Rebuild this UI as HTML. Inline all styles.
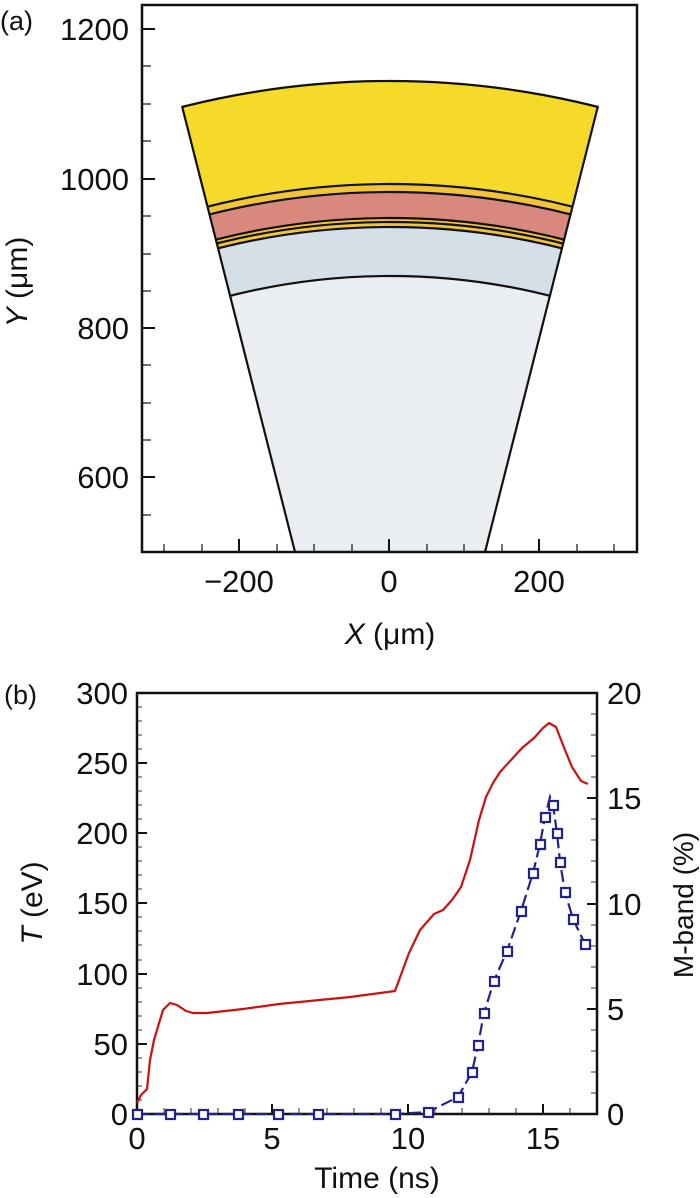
<!DOCTYPE html>
<html><head><meta charset="utf-8"><style>
html,body{margin:0;padding:0;background:#fff;overflow:hidden;width:700px;height:1198px;}
svg{display:block;font-family:"Liberation Sans",Arial,sans-serif;}
</style></head><body>
<svg width="700" height="1198" viewBox="0 0 700 1198" xmlns="http://www.w3.org/2000/svg">
<defs>
<clipPath id="wedge"><polygon points="390,927 169,55 611,55"/></clipPath>
<clipPath id="boxa"><rect x="142" y="5" width="495" height="547"/></clipPath>
</defs>
<g clip-path="url(#boxa)">
<g clip-path="url(#wedge)" stroke="#111" stroke-width="2.2">
<circle cx="390" cy="927" r="846" fill="#f5da2a"/>
<circle cx="390" cy="927" r="743" fill="#f2c43a"/>
<circle cx="390" cy="927" r="735" fill="#d9887e"/>
<circle cx="390" cy="927" r="709" fill="#f2c43a"/>
<circle cx="390" cy="927" r="705" fill="#f2c43a"/>
<circle cx="390" cy="927" r="700" fill="#d5dfe8"/>
<circle cx="390" cy="927" r="651" fill="#eaeef2"/>
</g>
<line x1="182" y1="106" x2="295" y2="552" stroke="#111" stroke-width="2.2"/>
<line x1="598" y1="106" x2="485" y2="552" stroke="#111" stroke-width="2.2"/>
</g>
<rect x="142" y="5" width="495" height="547" fill="none" stroke="#111" stroke-width="2.5"/>
<g stroke="#111" stroke-width="2">
<line x1="142" y1="29" x2="155" y2="29"/><line x1="142" y1="179" x2="155" y2="179"/>
<line x1="142" y1="328" x2="155" y2="328"/><line x1="142" y1="477" x2="155" y2="477"/>
<line x1="239" y1="552" x2="239" y2="539"/><line x1="389" y1="552" x2="389" y2="539"/><line x1="539" y1="552" x2="539" y2="539"/>
</g>
<g stroke="#111" stroke-width="1.2">
<line x1="142" y1="66" x2="151" y2="66"/><line x1="142" y1="104" x2="151" y2="104"/><line x1="142" y1="141" x2="151" y2="141"/>
<line x1="142" y1="216" x2="151" y2="216"/><line x1="142" y1="254" x2="151" y2="254"/><line x1="142" y1="291" x2="151" y2="291"/>
<line x1="142" y1="365" x2="151" y2="365"/><line x1="142" y1="403" x2="151" y2="403"/><line x1="142" y1="440" x2="151" y2="440"/>
<line x1="142" y1="515" x2="151" y2="515"/>
<line x1="164" y1="552" x2="164" y2="544"/><line x1="202" y1="552" x2="202" y2="544"/><line x1="277" y1="552" x2="277" y2="544"/>
<line x1="314" y1="552" x2="314" y2="544"/><line x1="352" y1="552" x2="352" y2="544"/><line x1="427" y1="552" x2="427" y2="544"/>
<line x1="464" y1="552" x2="464" y2="544"/><line x1="502" y1="552" x2="502" y2="544"/><line x1="577" y1="552" x2="577" y2="544"/>
<line x1="614" y1="552" x2="614" y2="544"/>
</g>
<g font-size="31" fill="#111" text-anchor="end">
<text x="129" y="40">1200</text><text x="129" y="190">1000</text><text x="129" y="339">800</text><text x="129" y="488">600</text>
</g>
<g font-size="31" fill="#111" text-anchor="middle">
<text x="239" y="592">−200</text><text x="389" y="592">0</text><text x="539" y="592">200</text>
</g>
<text x="0" y="30" font-size="27" fill="#111">(a)</text>
<text x="390" y="644" font-size="30" fill="#111" text-anchor="middle"><tspan font-style="italic">X</tspan> (μm)</text>
<text transform="translate(27,282) rotate(-90)" font-size="30" fill="#111" text-anchor="middle"><tspan font-style="italic">Y</tspan> (μm)</text>

<rect x="137" y="693" width="460" height="421" fill="none" stroke="#111" stroke-width="2.5"/>
<g stroke="#111" stroke-width="2">
<line x1="137" y1="763" x2="147" y2="763"/><line x1="137" y1="833" x2="147" y2="833"/><line x1="137" y1="903" x2="147" y2="903"/>
<line x1="137" y1="974" x2="147" y2="974"/><line x1="137" y1="1044" x2="147" y2="1044"/>
<line x1="597" y1="798" x2="587" y2="798"/><line x1="597" y1="904" x2="587" y2="904"/><line x1="597" y1="1009" x2="587" y2="1009"/>
<line x1="272" y1="1114" x2="272" y2="1104"/><line x1="408" y1="1114" x2="408" y2="1104"/><line x1="543" y1="1114" x2="543" y2="1104"/>
</g>
<g stroke="#333" stroke-width="1">
<line x1="137" y1="707" x2="142" y2="707"/><line x1="137" y1="721" x2="142" y2="721"/><line x1="137" y1="735" x2="142" y2="735"/><line x1="137" y1="749" x2="142" y2="749"/>
<line x1="137" y1="777" x2="142" y2="777"/><line x1="137" y1="791" x2="142" y2="791"/><line x1="137" y1="805" x2="142" y2="805"/><line x1="137" y1="819" x2="142" y2="819"/>
<line x1="137" y1="847" x2="142" y2="847"/><line x1="137" y1="861" x2="142" y2="861"/><line x1="137" y1="875" x2="142" y2="875"/><line x1="137" y1="889" x2="142" y2="889"/>
<line x1="137" y1="917" x2="142" y2="917"/><line x1="137" y1="931" x2="142" y2="931"/><line x1="137" y1="945" x2="142" y2="945"/><line x1="137" y1="960" x2="142" y2="960"/>
<line x1="137" y1="988" x2="142" y2="988"/><line x1="137" y1="1002" x2="142" y2="1002"/><line x1="137" y1="1016" x2="142" y2="1016"/><line x1="137" y1="1030" x2="142" y2="1030"/>
<line x1="137" y1="1058" x2="142" y2="1058"/><line x1="137" y1="1072" x2="142" y2="1072"/><line x1="137" y1="1086" x2="142" y2="1086"/><line x1="137" y1="1100" x2="142" y2="1100"/>
<line x1="597" y1="714" x2="591" y2="714"/><line x1="597" y1="735" x2="591" y2="735"/><line x1="597" y1="756" x2="591" y2="756"/><line x1="597" y1="777" x2="591" y2="777"/>
<line x1="597" y1="819" x2="591" y2="819"/><line x1="597" y1="840" x2="591" y2="840"/><line x1="597" y1="861" x2="591" y2="861"/><line x1="597" y1="882" x2="591" y2="882"/>
<line x1="597" y1="925" x2="591" y2="925"/><line x1="597" y1="946" x2="591" y2="946"/><line x1="597" y1="967" x2="591" y2="967"/><line x1="597" y1="988" x2="591" y2="988"/>
<line x1="597" y1="1030" x2="591" y2="1030"/><line x1="597" y1="1051" x2="591" y2="1051"/><line x1="597" y1="1072" x2="591" y2="1072"/><line x1="597" y1="1093" x2="591" y2="1093"/>
<line x1="164" y1="1114" x2="164" y2="1108"/><line x1="191" y1="1114" x2="191" y2="1108"/><line x1="218" y1="1114" x2="218" y2="1108"/><line x1="245" y1="1114" x2="245" y2="1108"/>
<line x1="299" y1="1114" x2="299" y2="1108"/><line x1="327" y1="1114" x2="327" y2="1108"/><line x1="354" y1="1114" x2="354" y2="1108"/><line x1="381" y1="1114" x2="381" y2="1108"/>
<line x1="435" y1="1114" x2="435" y2="1108"/><line x1="462" y1="1114" x2="462" y2="1108"/><line x1="489" y1="1114" x2="489" y2="1108"/><line x1="516" y1="1114" x2="516" y2="1108"/>
<line x1="570" y1="1114" x2="570" y2="1108"/>
</g>
<g font-size="31" fill="#111" text-anchor="end">
<text x="128" y="704">300</text><text x="128" y="774">250</text><text x="128" y="844">200</text><text x="128" y="914">150</text>
<text x="128" y="985">100</text><text x="128" y="1055">50</text><text x="128" y="1125">0</text>
</g>
<g font-size="31" fill="#111">
<text x="607" y="704">20</text><text x="607" y="809">15</text><text x="607" y="915">10</text><text x="607" y="1020">5</text><text x="607" y="1125">0</text>
</g>
<g font-size="31" fill="#111" text-anchor="middle">
<text x="137" y="1149">0</text><text x="272" y="1149">5</text><text x="408" y="1149">10</text><text x="543" y="1149">15</text>
</g>
<text x="4" y="704" font-size="27" fill="#111">(b)</text>
<text x="377" y="1188" font-size="30" fill="#111" text-anchor="middle">Time (ns)</text>
<text transform="translate(42,903) rotate(-90)" font-size="30" fill="#111" text-anchor="middle"><tspan font-style="italic">T</tspan> (eV)</text>
<text transform="translate(693,905) rotate(-90)" font-size="28" fill="#111" text-anchor="middle">M-band (%)</text>

<polyline fill="none" stroke="#cc1111" stroke-width="2.2" stroke-linejoin="round" points="137,1103 141,1095 147,1089 150,1060 154,1040 157,1030 163,1010 170,1003 177,1005 186,1011 193,1013 207,1013 243,1009 279,1004 350,997 395,991 409,953 420,930 434,914 443,910 452,900 461,887 470,860 479,820 486,797 493,783 500,772 511,760 522,748 534,738 543,728 549,723 556,727 565,750 572,767 581,781 588,784"/>
<polyline fill="none" stroke="#22228a" stroke-width="2.2" stroke-dasharray="12,5" points="137,1114 395,1114 428,1112 458,1097 472,1072 478,1045 484,1013 494,981 507,951 521,911 533,873 540,844 545,817 550,797 553,805 557,833 560,862 565,892 573,919 585,944"/>
<g fill="#fff" stroke="#22228a" stroke-width="2.2">
<rect x="133" y="1110" width="9" height="9"/><rect x="166" y="1110" width="9" height="9"/><rect x="199" y="1110" width="9" height="9"/>
<rect x="234" y="1110" width="9" height="9"/><rect x="274" y="1110" width="9" height="9"/><rect x="314" y="1110" width="9" height="9"/>
<rect x="391" y="1110" width="9" height="9"/><rect x="424" y="1108" width="9" height="9"/><rect x="454" y="1093" width="9" height="9"/>
<rect x="468" y="1068" width="9" height="9"/><rect x="474" y="1041" width="9" height="9"/><rect x="480" y="1009" width="9" height="9"/>
<rect x="490" y="977" width="9" height="9"/><rect x="503" y="947" width="9" height="9"/><rect x="517" y="907" width="9" height="9"/>
<rect x="529" y="869" width="9" height="9"/><rect x="536" y="840" width="9" height="9"/><rect x="541" y="813" width="9" height="9"/>
<rect x="549" y="801" width="9" height="9"/><rect x="553" y="829" width="9" height="9"/><rect x="556" y="858" width="9" height="9"/>
<rect x="561" y="888" width="9" height="9"/><rect x="569" y="915" width="9" height="9"/><rect x="581" y="940" width="9" height="9"/>
</g>
</svg>
</body></html>
